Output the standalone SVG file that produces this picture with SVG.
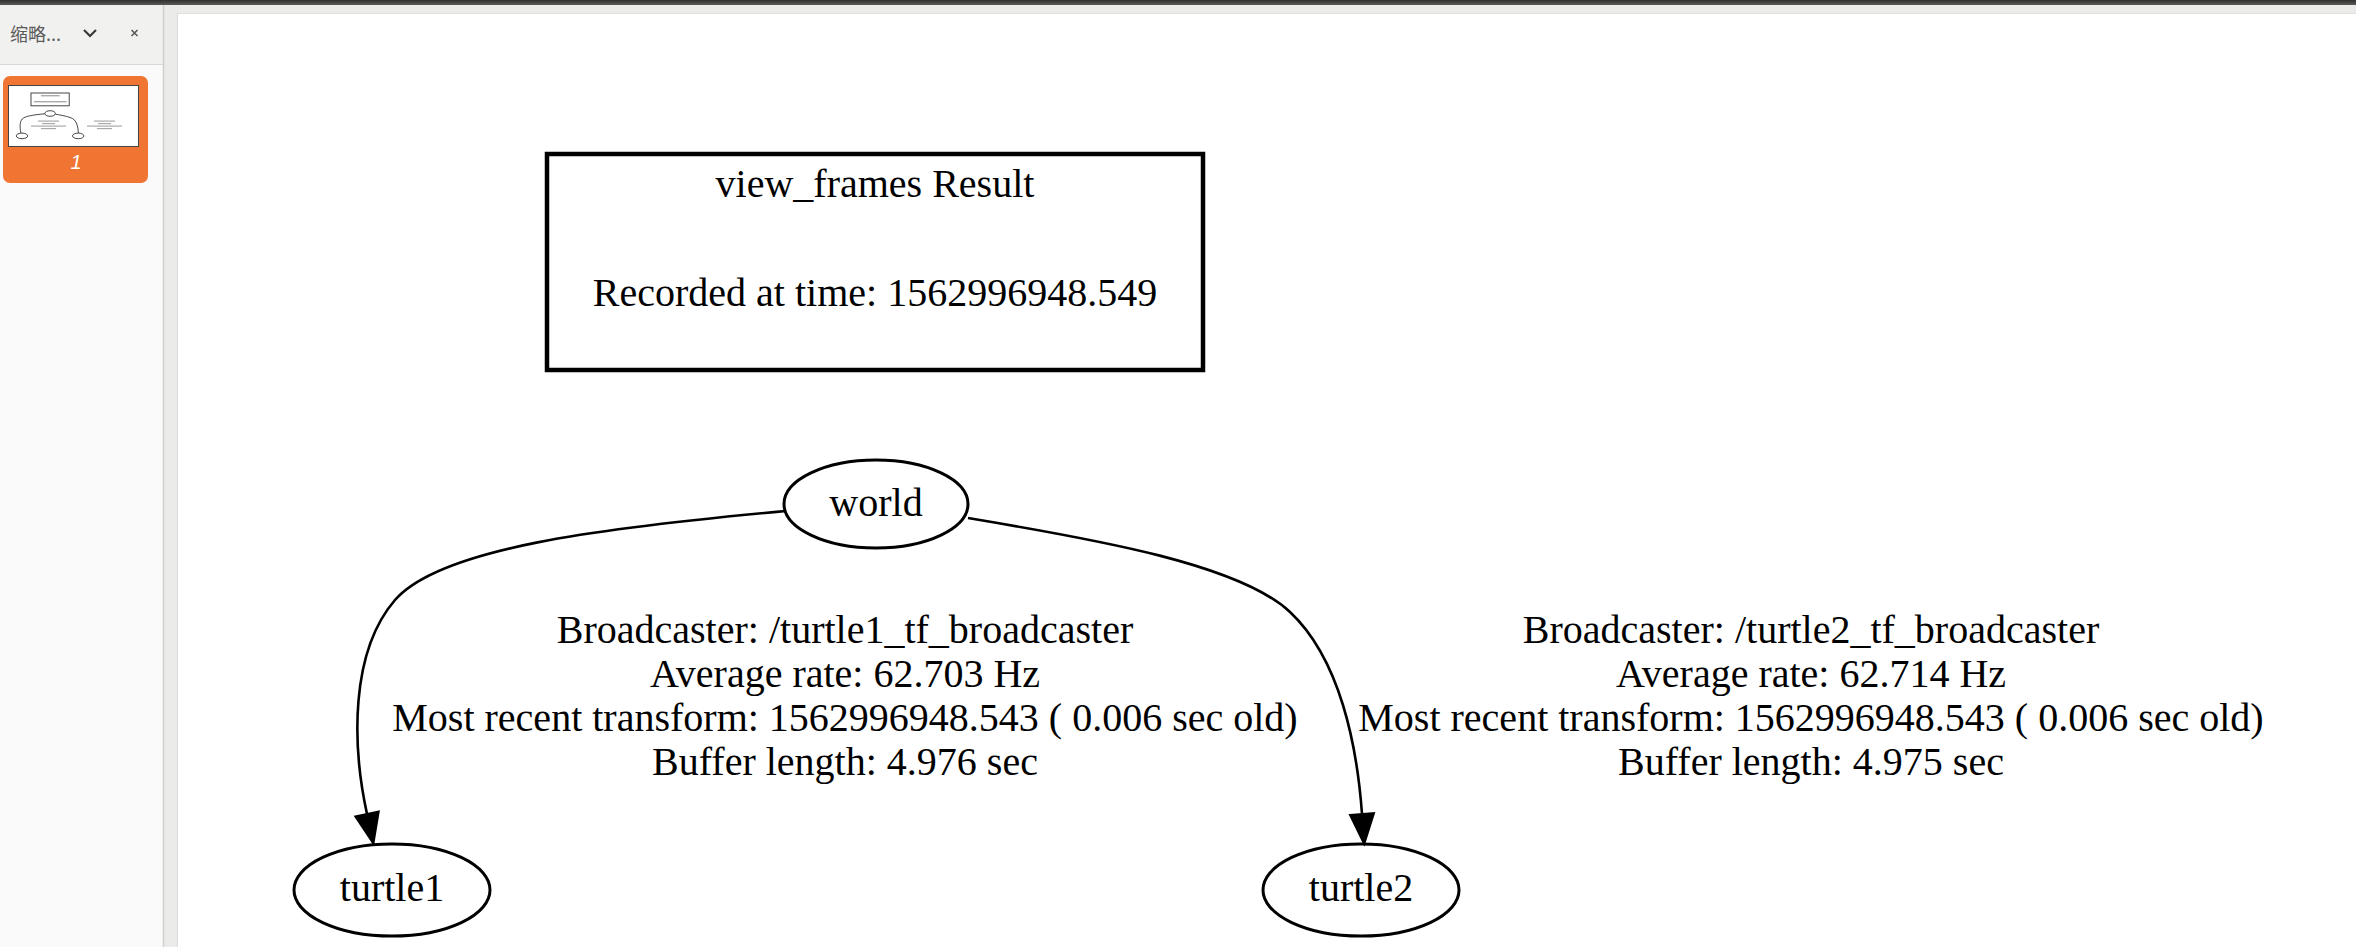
<svg xmlns="http://www.w3.org/2000/svg" width="2356" height="947" viewBox="0 0 2356 947">
<style>
  .t{font-family:"Liberation Serif","Times New Roman",serif;font-size:40px;fill:#000;text-anchor:middle}
  .node{fill:#fff;stroke:#000;stroke-width:3}
  .edge{fill:none;stroke:#000;stroke-width:2.6}
  .head{fill:#000;stroke:#000;stroke-width:2;stroke-linejoin:miter}
  .th{fill:none;stroke:#333;stroke-width:0.9}
  .tl{fill:#aaa}
</style>
<defs>
  <linearGradient id="topbar" x1="0" y1="0" x2="0" y2="1">
    <stop offset="0" stop-color="#2f2f2f"/>
    <stop offset="1" stop-color="#5a5a58"/>
  </linearGradient>
</defs>
<g id="viewer-chrome">
  <rect x="0" y="0" width="2356" height="947" fill="#ebebea"/>
  <rect x="0" y="0" width="2356" height="5" fill="url(#topbar)"/>
  <rect x="0" y="5" width="163" height="942" fill="#fafafa"/>
  <rect x="0" y="5" width="163" height="59" fill="#f1f1f0"/>
  <line x1="0" y1="64.5" x2="163" y2="64.5" stroke="#d9d9d8" stroke-width="1"/>
  <line x1="163.5" y1="5" x2="163.5" y2="947" stroke="#cfcfce" stroke-width="1.5"/>
  <text x="10" y="41" font-family="'Noto Sans CJK SC','Noto Sans',sans-serif" font-size="18" fill="#5a5a5a">缩略...</text>
  <path d="M84 30 L90 36 L96 30" fill="none" stroke="#3a3a3a" stroke-width="2.2"/>
  <path d="M131.5 30 L137.5 36 M137.5 30 L131.5 36" fill="none" stroke="#5a5a5a" stroke-width="1.6"/>
  <rect x="3" y="76" width="145" height="107" rx="7" fill="#f07533"/>
  <rect x="8.5" y="85.5" width="130" height="61" fill="#fff" stroke="#444" stroke-width="1"/>
  <text x="76" y="169" font-family="'Liberation Sans',Arial,sans-serif" font-size="20" font-style="italic" fill="#fff" text-anchor="middle">1</text>
  <rect x="177" y="13" width="2179" height="934" fill="#fff"/>
  <line x1="177" y1="13.5" x2="2356" y2="13.5" stroke="#e0e0e0" stroke-width="1"/>
  <line x1="177.5" y1="13" x2="177.5" y2="947" stroke="#dcdcdc" stroke-width="1"/>
</g>
<g id="thumbnail">
  <rect class="th" x="31" y="93" width="38.2" height="12.8" stroke-width="1.1"/>
  <rect class="tl" x="41" y="95" width="18.6" height="1.4"/>
  <rect class="tl" x="34" y="101" width="32.5" height="1.4"/>
  <ellipse class="th" cx="50.1" cy="113.5" rx="5.3" ry="2.8"/>
  <ellipse class="th" cx="22" cy="135.9" rx="5.7" ry="2.8"/>
  <ellipse class="th" cx="78.2" cy="135.9" rx="5.7" ry="2.8"/>
  <path class="th" d="M44.9 113.8 C34.1 114.8 24.8 116 22.2 119 C19.6 122 19.7 127.1 20.9 133"/>
  <path class="th" d="M55.4 114.2 C63.1 115.5 71.2 117 74.1 119.7 C77 122.4 78 127.1 78.4 133"/>
  <rect class="tl" x="38" y="120.5" width="21" height="1.2"/>
  <rect class="tl" x="42" y="123" width="13" height="1.2"/>
  <rect class="tl" x="31" y="125.5" width="35" height="1.2"/>
  <rect class="tl" x="41" y="128" width="15" height="1.2"/>
  <rect class="tl" x="94" y="120.5" width="21" height="1.2"/>
  <rect class="tl" x="98" y="123" width="13" height="1.2"/>
  <rect class="tl" x="87" y="125.5" width="35" height="1.2"/>
  <rect class="tl" x="97" y="128" width="15" height="1.2"/>
</g>
<g id="page">
  <g id="view_frames_result">
    <rect x="547" y="154" width="656" height="216" fill="#fff" stroke="#000" stroke-width="4.5"/>
    <text class="t" x="875" y="197">view_frames Result</text>
    <text class="t" x="875" y="306">Recorded at time: 1562996948.549</text>
  </g>
  <g id="world">
    <ellipse class="node" cx="876" cy="504" rx="92" ry="44"/>
    <text class="t" x="876" y="516">world</text>
  </g>
  <g id="turtle1">
    <ellipse class="node" cx="392" cy="890" rx="98" ry="46"/>
    <text class="t" x="392" y="901">turtle1</text>
  </g>
  <g id="turtle2">
    <ellipse class="node" cx="1361" cy="890" rx="98" ry="46"/>
    <text class="t" x="1361" y="901">turtle2</text>
  </g>
  <g id="connectors">
    <g id="edge_world_turtle1">
      <path class="edge" d="M786 511 C600 528 440 548 395 600 C350 652 352 745 367 814"/>
      <polygon class="head" points="355.3,816.5 378.7,811.5 373.4,843.5"/>
      <text class="t" x="845" y="643">Broadcaster: /turtle1_tf_broadcaster</text>
      <text class="t" x="845" y="687">Average rate: 62.703 Hz</text>
      <text class="t" x="845" y="731">Most recent transform: 1562996948.543 ( 0.006 sec old)</text>
      <text class="t" x="845" y="775">Buffer length: 4.976 sec</text>
    </g>
    <g id="edge_world_turtle2">
      <path class="edge" d="M968 518 C1100 540 1240 565 1290 612 C1340 659 1357 745 1362 814"/>
      <polygon class="head" points="1350,814.9 1374,813.1 1364.2,844"/>
      <text class="t" x="1811" y="643">Broadcaster: /turtle2_tf_broadcaster</text>
      <text class="t" x="1811" y="687">Average rate: 62.714 Hz</text>
      <text class="t" x="1811" y="731">Most recent transform: 1562996948.543 ( 0.006 sec old)</text>
      <text class="t" x="1811" y="775">Buffer length: 4.975 sec</text>
    </g>
  </g>
</g>
</svg>
